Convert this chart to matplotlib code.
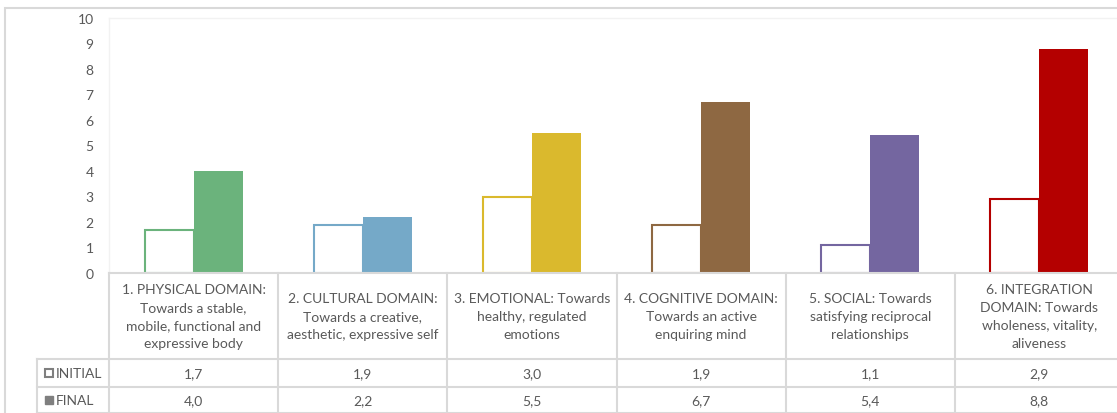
import numpy as np
import matplotlib.pyplot as plt
from matplotlib.patches import Rectangle
from matplotlib.lines import Line2D
from matplotlib.transforms import blended_transform_factory

plt.rcParams['font.family'] = ['Lato', 'DejaVu Sans']

# Data
categories = [
    "1. PHYSICAL DOMAIN:\nTowards a stable,\nmobile, functional and\nexpressive body",
    "2. CULTURAL DOMAIN:\nTowards a creative,\naesthetic, expressive self",
    "3. EMOTIONAL: Towards\nhealthy, regulated\nemotions",
    "4. COGNITIVE DOMAIN:\nTowards an active\nenquiring mind",
    "5. SOCIAL: Towards\nsatisfying reciprocal\nrelationships",
    "6. INTEGRATION\nDOMAIN: Towards\nwholeness, vitality,\naliveness",
]
initial = [1.7, 1.9, 3.0, 1.9, 1.1, 2.9]
final = [4.0, 2.2, 5.5, 6.7, 5.4, 8.8]
colors = ['#6BB37C', '#75A9C8', '#DAB92D', '#8E6842', '#7466A0', '#B40000']

W, H = 1117, 414
TXT = '#595959'
GRID = '#D9D9D9'

fig = plt.figure(figsize=(W / 100, H / 100), dpi=100)
ax = fig.add_axes([109 / W, (H - 274) / H, 1015 / W, 255 / H])

x = np.arange(len(categories))
bw = 0.29
ax.bar(x - bw / 2, initial, bw, color='white', edgecolor=colors, linewidth=1.5)
ax.bar(x + bw / 2, final, bw, color=colors, linewidth=0)

ax.set_xlim(-0.5, len(categories) - 0.5)
ax.set_ylim(0, 10)
ax.set_yticks(range(0, 11))
ax.set_xticks([])
ax.tick_params(axis='y', length=0, pad=11, labelcolor=TXT, labelsize=10)
for s in ['top', 'left', 'right']:
    ax.spines[s].set_color('#F2F2F2')
    ax.spines[s].set_linewidth(1)
ax.spines['bottom'].set_color(GRID)
ax.spines['bottom'].set_linewidth(1.5)

# Data table below the plot
tr = blended_transform_factory(ax.transData, ax.transAxes)
def ya(ypix):
    return (274 - ypix) / 255

lab_left = -0.5 - 72 / 169.2
y_bot = ya(420)
for b in np.arange(-0.5, len(categories), 1.0):
    ax.add_line(Line2D([b, b], [0, y_bot], transform=tr, color=GRID, lw=1.5, clip_on=False))
ax.add_line(Line2D([lab_left, lab_left], [ya(360), y_bot], transform=tr, color=GRID, lw=1.5, clip_on=False))
for yp in [360, 388, 414]:
    ax.add_line(Line2D([lab_left, len(categories) - 0.5], [ya(yp), ya(yp)], transform=tr,
                       color=GRID, lw=1.5, clip_on=False))

for i, cat in enumerate(categories):
    ax.text(i, ya(317), cat, transform=tr, ha='center', va='center', color=TXT,
            fontsize=10, linespacing=1.62, clip_on=False)
    ax.text(i, ya(374), f"{initial[i]:.1f}".replace('.', ','), transform=tr,
            ha='center', va='center', color=TXT, fontsize=10, clip_on=False)
    ax.text(i, ya(401), f"{final[i]:.1f}".replace('.', ','), transform=tr,
            ha='center', va='center', color=TXT, fontsize=10, clip_on=False)

# legend keys in table
key_w = 8 / 169.2
kx = -0.5 - 64 / 169.2
ax.add_patch(Rectangle((kx, ya(378)), key_w, 8 / 255, transform=tr, facecolor='white',
                       edgecolor='#7F7F7F', lw=1.5, clip_on=False))
ax.add_patch(Rectangle((kx, ya(405)), key_w, 8 / 255, transform=tr, facecolor='#7F7F7F',
                       edgecolor='#7F7F7F', lw=1, clip_on=False))
ax.text(kx + key_w + 3 / 169.2, ya(374), "INITIAL", transform=tr, ha='left', va='center',
        color=TXT, fontsize=10, clip_on=False)
ax.text(kx + key_w + 3 / 169.2, ya(401), "FINAL", transform=tr, ha='left', va='center',
        color=TXT, fontsize=10, clip_on=False)

# outer chart border
fig.add_artist(Rectangle((5 / W, -0.1), 1.2, (H - 9) / H + 0.1, transform=fig.transFigure,
                         fill=False, edgecolor=GRID, lw=1.5))

fig.savefig('out.png', dpi=100)
